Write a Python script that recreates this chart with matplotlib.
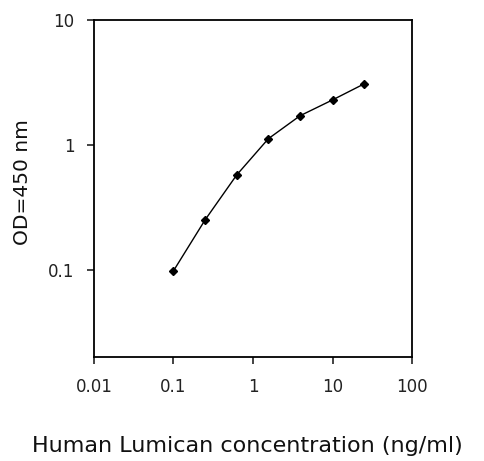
import matplotlib
matplotlib.use("Agg")
import matplotlib.pyplot as plt
from matplotlib.ticker import FixedLocator, FixedFormatter, NullLocator

conc = [0.1, 0.25, 0.625, 1.56, 3.9, 10, 25]
od = [0.098, 0.251, 0.575, 1.12, 1.71, 2.29, 3.08]
xticks = [0.01, 0.1, 1, 10, 100]
xticklabels = ["0.01", "0.1", "1", "10", "100"]
yticks = [0.1, 1, 10]
yticklabels = ["0.1", "1", "10"]

plt.rcParams['font.family'] = ['DejaVu Sans']
fig = plt.figure(figsize=(4.85, 4.61), dpi=100)
ax = fig.add_axes([0.1938, 0.2256, 0.8495 - 0.1938, 0.9566 - 0.2256])
ax.plot(conc, od, color='black', lw=1.0, marker='D', ms=4.5, mfc='black', mec='black')
ax.set_xscale('log')
ax.set_yscale('log')
ax.set_xlim(0.01, 100)
ax.set_ylim(0.02, 10)
ax.xaxis.set_major_locator(FixedLocator(xticks))
ax.xaxis.set_major_formatter(FixedFormatter(xticklabels))
ax.yaxis.set_major_locator(FixedLocator(yticks))
ax.yaxis.set_major_formatter(FixedFormatter(yticklabels))
ax.xaxis.set_minor_locator(NullLocator())
ax.yaxis.set_minor_locator(NullLocator())
ax.tick_params(direction='out', length=5, width=1.2, labelsize=12, colors='#222222')
ax.tick_params(axis='x', pad=10)
ax.tick_params(axis='y', pad=9)
for s in ax.spines.values():
    s.set_linewidth(1.3)
fig.text(247 / 485, 1 - 446 / 461, "Human Lumican concentration (ng/ml)", fontsize=16,
         ha='center', va='center', color='#111111')
fig.text(23 / 485, 1 - 182 / 461, "OD=450 nm", fontsize=14.5, rotation=90,
         ha='center', va='center', color='#111111')
fig.savefig("out.png", dpi=100)
